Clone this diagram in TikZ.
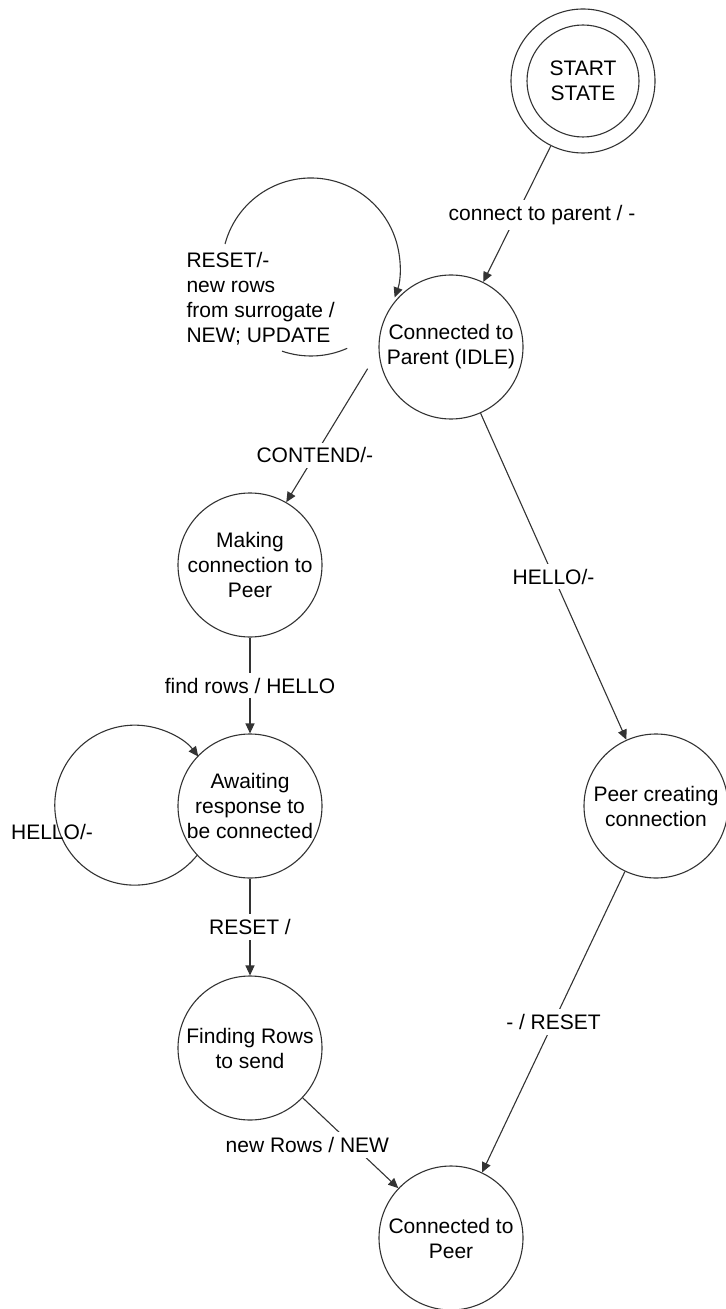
\documentclass[tikz,border=0pt]{standalone}
\usepackage{fontspec}
\setmainfont{Liberation Sans}
\usetikzlibrary{arrows.meta}
\definecolor{ink}{HTML}{333333}
\begin{document}
\begin{tikzpicture}[x=0.5pt,y=-0.5pt,
  line width=0.55pt, draw=ink,
  every node/.style={font=\fontsize{10.5}{12.5}\selectfont, text=black},
  state/.style={draw=ink, circle, minimum size=72pt, inner sep=0pt, align=center},
  trans/.style={draw=ink, -{Triangle[length=5pt,width=4.5pt]}},
  lbl/.style={fill=white, inner sep=2.5pt}]
\useasboundingbox (0,0) rectangle (725,1309);

% states
\node[state] (start) at (583,81) {START\\STATE};
\draw[ink] (start.center) circle[radius=56];
\node[state] (cp)  at (451,347)  {Connected to\\Parent (IDLE)};
\node[state] (mk)  at (250,565)  {Making\\connection to\\Peer};
\node[state] (aw)  at (250,806)  {Awaiting\\response to\\be connected};
\node[state] (fr)  at (250,1048) {Finding Rows\\to send};
\node[state] (pc)  at (656,806)  {Peer creating\\connection};
\node[state] (ctp) at (451,1238) {Connected to\\Peer};

% transitions
\draw[trans] (start) -- node[lbl, pos=0.507, xshift=12.75pt] {connect to parent / -} (cp);
\draw[trans, shorten <=10.5pt] (cp.183) -- node[lbl, pos=0.69] {CONTEND/-} (mk.60);
\draw[trans] (cp) -- node[lbl, pos=0.5] {HELLO/-} (pc);
\draw[trans] (mk) -- node[lbl] {find rows / HELLO} (aw);
\draw[trans] (aw) -- node[lbl] {RESET /} (fr);
\draw[trans] (fr) -- node[lbl, pos=0.52, xshift=-22.5pt] {new Rows / NEW} (ctp);
\draw[trans] (pc) -- node[lbl] {- / RESET} (ctp);

% self loop on the idle state
\coordinate (cploop) at (311,267);
\draw[trans] (cploop) ++(195:89) arc[start angle=195, end angle=380, radius=89];
\draw[ink] (cploop) ++(66:89) arc[start angle=66, end angle=109, radius=89];
\node[anchor=north west, align=left, inner sep=0pt] (cplbl) at (186,252)
  {RESET/-\\new rows\\from surrogate /\\NEW; UPDATE};

% self loop on the awaiting state
\draw[trans] (aw.223) arc[start angle=39, end angle=322.6, radius=80];
\node (awlbl) at (52,832) {HELLO/-};
\end{tikzpicture}
\end{document}
